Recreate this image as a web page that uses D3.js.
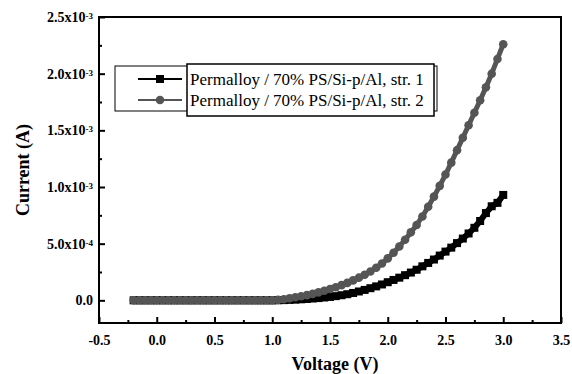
<!DOCTYPE html>
<html>
<head>
<meta charset="utf-8">
<script src="https://cdn.jsdelivr.net/npm/d3@7"></script>
<style>
  body { margin: 0; background: #fff; }
  svg text { font-family: "Liberation Serif", "Times New Roman", serif; }
</style>
</head>
<body>
<div id="chart"></div>
<script>
// voltage sweep (V)
var voltage = [
  -0.20, -0.15, -0.10, -0.05, 0.00, 0.05, 0.10, 0.15, 0.20, 0.25, 0.30, 0.35, 0.40,
  0.45, 0.50, 0.55, 0.60, 0.65, 0.70, 0.75, 0.80, 0.85, 0.90, 0.95, 1.00,
  1.05, 1.10, 1.15, 1.20, 1.25, 1.30, 1.35, 1.40, 1.45, 1.50, 1.55, 1.60, 1.65, 1.70,
  1.75, 1.80, 1.85, 1.90, 1.95, 2.00, 2.05, 2.10, 2.15, 2.20, 2.25, 2.30, 2.35, 2.40,
  2.45, 2.50, 2.55, 2.60, 2.65, 2.70, 2.75, 2.80, 2.85, 2.90, 2.95, 3.00
];

// current in units of 1e-3 A
var currentStr1 = [
  0, 0, 0, 0, 0, 0, 0, 0, 0, 0, 0, 0, 0,
  0, 0, 0, 0, 0, 0, 0, 0, 0, 0, 0, 0,
  0.001, 0.002, 0.004, 0.006, 0.009, 0.012, 0.016, 0.020, 0.025, 0.030, 0.037, 0.045, 0.054, 0.065,
  0.078, 0.092, 0.107, 0.123, 0.140, 0.160, 0.180, 0.200, 0.222, 0.245, 0.270, 0.300, 0.330, 0.360,
  0.395, 0.430, 0.465, 0.505, 0.545, 0.590, 0.640, 0.700, 0.770, 0.830, 0.860, 0.930
];
var currentStr2 = [
  0, 0, 0, 0, 0, 0, 0, 0, 0, 0, 0, 0, 0,
  0, 0, 0, 0, 0, 0, 0, 0, 0, 0, 0, 0,
  0.004, 0.010, 0.018, 0.027, 0.036, 0.046, 0.057, 0.070, 0.084, 0.100, 0.116, 0.134, 0.154, 0.176,
  0.200, 0.226, 0.255, 0.287, 0.325, 0.370, 0.420, 0.475, 0.535, 0.600, 0.665, 0.740, 0.825, 0.915,
  1.010, 1.110, 1.215, 1.325, 1.435, 1.545, 1.655, 1.765, 1.880, 2.000, 2.130, 2.260
];

var seriesNames = ["Permalloy / 70% PS/Si-p/Al, str. 1", "Permalloy / 70% PS/Si-p/Al, str. 2"];

var xTicks = [-0.5, 0.0, 0.5, 1.0, 1.5, 2.0, 2.5, 3.0, 3.5];
var xTickLabels = ["-0.5", "0.0", "0.5", "1.0", "1.5", "2.0", "2.5", "3.0", "3.5"];
var xMinorTicks = [-0.25, 0.25, 0.75, 1.25, 1.75, 2.25, 2.75, 3.25];
var yTicks = [0, 0.5, 1.0, 1.5, 2.0, 2.5];
var yTickMantissa = ["0.0", "5.0x10", "1.0x10", "1.5x10", "2.0x10", "2.5x10"];
var yTickExponent = ["", "-4", "-3", "-3", "-3", "-3"];
var yMinorTicks = [0.25, 0.75, 1.25, 1.75, 2.25];

var serif = '"Liberation Serif", "Times New Roman", serif';

//Set the dimensions of the chart
var W = 572, H = 374;
var margin = { top: 17, right: 11, bottom: 51, left: 99 },
    width = W - margin.left - margin.right,
    height = H - margin.top - margin.bottom;

var xScale = d3.scaleLinear().domain([-0.5, 3.5]).range([0, width]);
var yScale = d3.scaleLinear().domain([-0.2, 2.5]).range([height, 0]);

var svg = d3.select("#chart").append("svg")
    .attr("width", W).attr("height", H);
var g = svg.append("g")
    .attr("transform", "translate(" + margin.left + "," + margin.top + ")");

var grayColor = "#555555";

//Draw series: str. 1 first (black squares), str. 2 on top (gray circles)
var lineFunction = d3.line()
    .x(function (d) { return xScale(d[0]); })
    .y(function (d) { return yScale(d[1]); });

var data1 = voltage.map(function (v, i) { return [v, currentStr1[i]]; });
var data2 = voltage.map(function (v, i) { return [v, currentStr2[i]]; });

g.append("path").attr("d", lineFunction(data1))
    .attr("fill", "none").attr("stroke", "#000").attr("stroke-width", 6)
    .attr("stroke-linejoin", "round");
g.selectAll(".sq").data(data1).enter().append("rect")
    .attr("x", function (d) { return xScale(d[0]) - 4; })
    .attr("y", function (d) { return yScale(d[1]) - 4; })
    .attr("width", 8).attr("height", 8)
    .attr("fill", "#000");

g.append("path").attr("d", lineFunction(data2))
    .attr("fill", "none").attr("stroke", grayColor).attr("stroke-width", 5)
    .attr("stroke-linejoin", "round");
g.selectAll(".ci").data(data2).enter().append("circle")
    .attr("cx", function (d) { return xScale(d[0]); })
    .attr("cy", function (d) { return yScale(d[1]); })
    .attr("r", 4.3)
    .attr("fill", grayColor);

//Axes with inward ticks
var xAxis = d3.axisBottom(xScale).tickValues(xTicks)
    .tickSize(-6).tickPadding(12)
    .tickFormat(function (d, i) { return xTickLabels[i]; });
var xNode = g.append("g").attr("transform", "translate(0," + height + ")").call(xAxis);
xNode.attr("font-family", serif).attr("font-size", 14).attr("font-weight", "bold");
xNode.select(".domain").remove();
xNode.selectAll("line").attr("stroke", "#000").attr("stroke-width", 2);
xNode.selectAll("text").attr("fill", "#000")
    .style("font-family", serif)
    .style("font-size", "14px").style("font-weight", "bold");

var xMinor = d3.axisBottom(xScale).tickValues(xMinorTicks).tickSize(-3).tickFormat("");
var xMinorNode = g.append("g").attr("transform", "translate(0," + height + ")").call(xMinor);
xMinorNode.select(".domain").remove();
xMinorNode.selectAll("line").attr("stroke", "#000").attr("stroke-width", 2);

var yAxis = d3.axisLeft(yScale).tickValues(yTicks)
    .tickSize(-6).tickPadding(6)
    .tickFormat(function (d, i) { return yTickMantissa[i]; });
var yNode = g.append("g").call(yAxis);
yNode.attr("font-family", serif).attr("font-size", 14).attr("font-weight", "bold");
yNode.select(".domain").remove();
yNode.selectAll("line").attr("stroke", "#000").attr("stroke-width", 2);
yNode.selectAll("text").attr("fill", "#000")
    .style("font-family", serif)
    .style("font-size", "14px").style("font-weight", "bold")
    .each(function (d, i) {
        if (yTickExponent[i]) {
            d3.select(this).append("tspan")
                .attr("dy", "-0.35em")
                .style("font-size", "9px")
                .text(yTickExponent[i]);
        }
    });

var yMinor = d3.axisLeft(yScale).tickValues(yMinorTicks).tickSize(-3).tickFormat("");
var yMinorNode = g.append("g").call(yMinor);
yMinorNode.select(".domain").remove();
yMinorNode.selectAll("line").attr("stroke", "#000").attr("stroke-width", 2);

//Frame
g.append("rect")
    .attr("x", 0).attr("y", 0)
    .attr("width", width).attr("height", height)
    .attr("fill", "none").attr("stroke", "#000").attr("stroke-width", 2);

//Axis titles
svg.append("text")
    .attr("x", margin.left + width / 2 + 5).attr("y", 370)
    .attr("text-anchor", "middle")
    .style("font-size", "18px").style("font-weight", "bold")
    .text("Voltage (V)");

svg.append("text")
    .attr("transform", "translate(29," + 170 + ") rotate(-90)")
    .attr("text-anchor", "middle")
    .style("font-size", "18px").style("font-weight", "bold")
    .text("Current (A)");

//Legend
var legend = svg.append("g");
legend.append("rect")
    .attr("x", 115).attr("y", 66).attr("width", 322).attr("height", 45)
    .attr("fill", "#fff").attr("stroke", "#000").attr("stroke-width", 1);
legend.append("rect")
    .attr("x", 187).attr("y", 64).attr("width", 247).attr("height", 52)
    .attr("fill", "#fff").attr("stroke", "#000").attr("stroke-width", 1.5);

var legendColors = ["#000", grayColor];
seriesNames.forEach(function (name, i) {
    var ly = 79 + i * 21;
    legend.append("line")
        .attr("x1", 138).attr("x2", 182).attr("y1", ly).attr("y2", ly)
        .attr("stroke", legendColors[i]).attr("stroke-width", 2);
    if (i === 0) {
        legend.append("rect").attr("x", 156).attr("y", ly - 4)
            .attr("width", 8).attr("height", 8).attr("fill", legendColors[i]);
    } else {
        legend.append("circle").attr("cx", 160).attr("cy", ly).attr("r", 4.3)
            .attr("fill", legendColors[i]);
    }
    legend.append("text")
        .attr("x", 190).attr("y", ly + 6)
        .style("font-size", "17px")
        .text(name);
});
</script>
</body>
</html>
